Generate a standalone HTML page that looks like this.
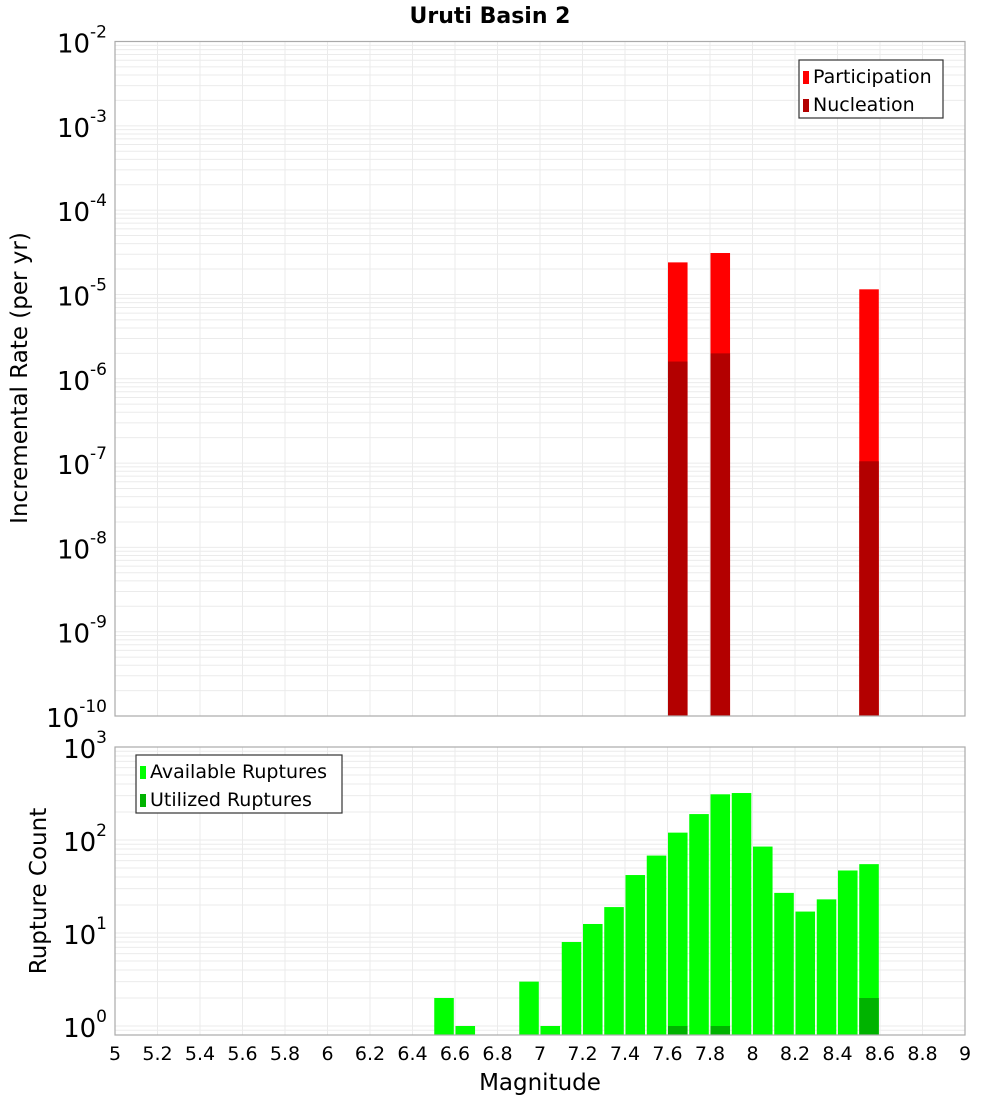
<!DOCTYPE html>
<html><head><meta charset="utf-8"><style>
body{margin:0;background:#fff;font-family:"DejaVu Sans","Liberation Sans",sans-serif;}
svg text{font-family:"DejaVu Sans","Liberation Sans",sans-serif;}
</style></head><body>
<svg id="chart" width="1000" height="1100" xmlns="http://www.w3.org/2000/svg">
<text x="490" y="23" text-anchor="middle" font-size="22" font-weight="bold">Uruti Basin 2</text>
<g id="topG"></g><g id="botG"></g>
<text transform="translate(27,378) rotate(-90)" text-anchor="middle" font-size="23">Incremental Rate (per yr)</text>
<text transform="translate(46,891) rotate(-90)" text-anchor="middle" font-size="23">Rupture Count</text>
<text x="540" y="1090" text-anchor="middle" font-size="23">Magnitude</text>
</svg>
<script>
const topBins=[7.65,7.85,8.55];
const participation=[2.4e-5,3.1e-5,1.15e-5];
const nucleation=[1.6e-6,2.0e-6,1.05e-7];
const botBins=[6.55,6.65,6.95,7.05,7.15,7.25,7.35,7.45,7.55,7.65,7.75,7.85,7.95,8.05,8.15,8.25,8.35,8.45,8.55];
const available=[2,1,3,1,8,12.5,19,42,68,120,190,310,320,85,27,17,23,47,55];
const utilBins=[7.65,7.85,8.55];
const utilized=[1,1,2];
const xTicks=[5,5.2,5.4,5.6,5.8,6,6.2,6.4,6.6,6.8,7,7.2,7.4,7.6,7.8,8,8.2,8.4,8.6,8.8,9];
const topExps=[-2,-3,-4,-5,-6,-7,-8,-9,-10];
const botExps=[3,2,1,0];

const NS="http://www.w3.org/2000/svg";
const L=115,R=965;
const xs=m=>L+(m-5)/4*(R-L);
const T1=41.5,B1=716;
const y1=v=>T1+(-2-Math.log10(v))*(B1-T1)/8;
const T2=747,B2=1035,dec2=93;
const y2=v=>1026-Math.log10(v)*dec2;
function mk(p,tag,a,txt){const e=document.createElementNS(NS,tag);for(const k in a)e.setAttribute(k,a[k]);if(txt!==undefined)e.textContent=txt;p.appendChild(e);return e;}
const topG=document.getElementById('topG'),botG=document.getElementById('botG');

function grid(g,T,B,yf,lo,hi){
  for(let e=lo;e<hi;e++)for(let k=1;k<10;k++){const v=k*Math.pow(10,e);const yy=yf(v);if(yy<T-0.1||yy>B+0.1)continue;
    const l=mk(g,'line',{x1:L,x2:R,y1:yy,y2:yy,stroke:'#ebebeb','stroke-width':1});
    
    }
  xTicks.forEach(t=>{const l=mk(g,'line',{x1:xs(t),x2:xs(t),y1:T,y2:B,stroke:'#ebebeb','stroke-width':1});
    
    });
}
grid(topG,T1,B1,y1,-10,-1);
grid(botG,T2,B2,y2,-1,3);

function bar(g,m,v,yf,B,col,name){const x0=xs(m-0.05)+0.5,x1=xs(m+0.05)-1.2;const yy=yf(v);
  const r=mk(g,'rect',{x:x0,y:yy,width:x1-x0,height:B-yy,fill:col});
  
  }
topBins.forEach((m,i)=>bar(topG,m,participation[i],y1,B1,'#ff0000','participation-bar'));
topBins.forEach((m,i)=>bar(topG,m,nucleation[i],y1,B1,'#b30000','nucleation-bar'));
botBins.forEach((m,i)=>bar(botG,m,available[i],y2,B2,'#00ff00','available-bar'));
utilBins.forEach((m,i)=>bar(botG,m,utilized[i],y2,B2,'#00b300','utilized-bar'));

[[topG,T1,B1],[botG,T2,B2]].forEach(([g,T,B])=>{const r=mk(g,'rect',{x:L,y:T,width:R-L,height:B-T,fill:'none',stroke:'#aaa','stroke-width':1.2});
  
  });

function ylab(g,e,yy){const t=mk(g,'text',{x:107,y:yy+11,'text-anchor':'end','font-size':26});
  
  
  mk(t,'tspan',{},'10');mk(t,'tspan',{dy:-15,'font-size':17},String(e));}
topExps.forEach(e=>ylab(topG,e,y1(Math.pow(10,e))));
botExps.forEach(e=>ylab(botG,e,y2(Math.pow(10,e))));

xTicks.forEach(t=>{const tx=mk(botG,'text',{x:xs(t),y:1060,'text-anchor':'middle','font-size':19},String(t));
  
  });

function legend(g,bx,by,w,items){const r=mk(g,'rect',{x:bx,y:by,width:w,height:58,fill:'#fff',stroke:'#333','stroke-width':1.2});
  
  
  items.forEach((it,i)=>{const s=mk(g,'rect',{x:bx+4,y:by+11+i*28,width:6,height:13,fill:it[1]});
    
    
    const t=mk(g,'text',{x:bx+14,y:by+23+i*28,'font-size':19},it[0]);
    
    });}
legend(topG,799,60,144,[['Participation','#ff0000'],['Nucleation','#b30000']]);
legend(botG,136,755,206,[['Available Ruptures','#00ff00'],['Utilized Ruptures','#00b300']]);
</script>
</body></html>
